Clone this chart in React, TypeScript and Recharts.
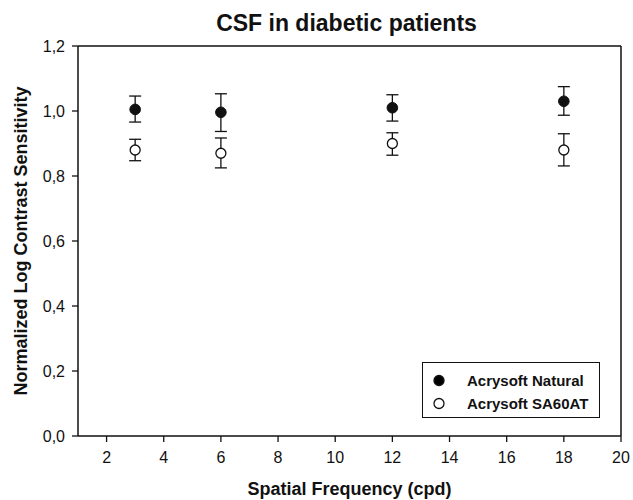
import React from 'react';
import { ScatterChart, Scatter, XAxis, YAxis, ErrorBar, ReferenceLine, Legend, Label } from 'recharts';

const frequencies = [3, 6, 12, 18];
const naturalMean = [1.005, 0.996, 1.01, 1.03];
const naturalErrLow = [0.039, 0.059, 0.041, 0.043];
const naturalErrHigh = [0.041, 0.057, 0.04, 0.045];
const sa60Mean = [0.88, 0.87, 0.9, 0.88];
const sa60ErrLow = [0.033, 0.045, 0.036, 0.049];
const sa60ErrHigh = [0.033, 0.047, 0.033, 0.05];
const xTicks = [2, 4, 6, 8, 10, 12, 14, 16, 18, 20];
const yTicks = [0, 0.2, 0.4, 0.6, 0.8, 1.0, 1.2];

const naturalName = 'Acrysoft Natural';
const sa60Name = 'Acrysoft SA60AT';

const naturalData = frequencies.map((f, i) => ({ x: f, y: naturalMean[i], err: [naturalErrLow[i], naturalErrHigh[i]] }));
const sa60Data = frequencies.map((f, i) => ({ x: f, y: sa60Mean[i], err: [sa60ErrLow[i], sa60ErrHigh[i]] }));

const FONT = '"Liberation Sans", Arial, Helvetica, sans-serif';
const markerFill: Record<string, string> = { [naturalName]: '#000', [sa60Name]: '#fff' };

const FilledDot = (p: any) => <circle cx={p.cx} cy={p.cy} r={5.3} fill="#111" stroke="#111" strokeWidth={1} />;
const OpenDot = (p: any) => <circle cx={p.cx} cy={p.cy} r={5} fill="#fff" stroke="#111" strokeWidth={1.3} />;

const renderLegend = (props: any) => {
  const payload = props.payload || [];
  return (
    <div style={{ boxSizing: 'border-box', width: 178, height: 56, border: '1.3px solid #111', background: '#fff', paddingTop: 6, fontFamily: FONT }}>
      {payload.map((entry: any) => (
        <div key={entry.value} style={{ display: 'flex', alignItems: 'center', height: 23 }}>
          <svg width={44} height={23} style={{ flex: 'none' }}>
            <circle cx={16} cy={11.5} r={5} fill={markerFill[entry.value] || '#000'} stroke="#111" strokeWidth={1.3} />
          </svg>
          <span style={{ fontWeight: 'bold', fontSize: 15, color: '#111', whiteSpace: 'nowrap' }}>{entry.value}</span>
        </div>
      ))}
    </div>
  );
};

export default function App() {
  return (
    <div style={{ position: 'absolute', left: 0, top: 0, width: 633, height: 500, background: '#fff', fontFamily: FONT }}>
      <div style={{ position: 'absolute', left: 75, top: 12, width: 543, textAlign: 'center', fontWeight: 'bold', fontSize: 23, lineHeight: '23px', color: '#111' }}>
        CSF in diabetic patients
      </div>
      <ScatterChart width={633} height={500} margin={{ top: 46, right: 12, bottom: 0, left: 0 }} style={{ fontFamily: FONT }}>
        <XAxis
          type="number"
          dataKey="x"
          domain={[1, 20]}
          ticks={xTicks}
          allowDataOverflow
          height={64}
          tickSize={6}
          tickMargin={10}
          tick={{ fill: '#111', fontSize: 16 }}
          tickLine={{ stroke: '#111', strokeWidth: 1.3 }}
          axisLine={{ stroke: '#111', strokeWidth: 1.5 }}
        >
          <Label
            content={(p: any) => {
              const vb = p.viewBox;
              return (
                <text x={vb.x + vb.width / 2} y={495} textAnchor="middle" fontWeight="bold" fontSize={18} fill="#111">
                  Spatial Frequency (cpd)
                </text>
              );
            }}
          />
        </XAxis>
        <YAxis
          type="number"
          dataKey="y"
          domain={[0, 1.2]}
          ticks={yTicks}
          allowDataOverflow
          width={78}
          tickSize={6}
          tickMargin={7}
          tickFormatter={(v: number) => v.toFixed(1).replace('.', ',')}
          tick={{ fill: '#111', fontSize: 16 }}
          tickLine={{ stroke: '#111', strokeWidth: 1.3 }}
          axisLine={{ stroke: '#111', strokeWidth: 1.5 }}
        >
          <Label
            content={(p: any) => {
              const vb = p.viewBox;
              const cy = vb.y + vb.height / 2;
              return (
                <text transform={`translate(27, ${cy}) rotate(-90)`} x={0} y={0} textAnchor="middle" fontWeight="bold" fontSize={18} fill="#111">
                  Normalized Log Contrast Sensitivity
                </text>
              );
            }}
          />
        </YAxis>
        <ReferenceLine y={1.2} stroke="#111" strokeWidth={1.5} ifOverflow="visible" />
        <ReferenceLine x={20} stroke="#111" strokeWidth={1.5} ifOverflow="visible" />
        <Legend
          layout="vertical"
          align="center"
          verticalAlign="middle"
          content={renderLegend}
          wrapperStyle={{ left: 422, top: 362, width: 178, height: 56 }}
        />
        <Scatter name={naturalName} data={naturalData} fill="#000" shape={FilledDot} isAnimationActive={false}>
          <ErrorBar dataKey="err" direction="y" width={6} stroke="#111" strokeWidth={1.3} />
        </Scatter>
        <Scatter name={sa60Name} data={sa60Data} fill="#fff" shape={OpenDot} isAnimationActive={false}>
          <ErrorBar dataKey="err" direction="y" width={6} stroke="#111" strokeWidth={1.3} />
        </Scatter>
      </ScatterChart>
    </div>
  );
}
